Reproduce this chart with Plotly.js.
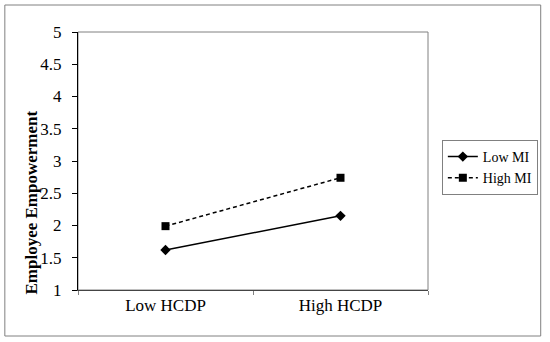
<!DOCTYPE html>
<html>
<head>
<meta charset="utf-8">
<script src="https://cdn.plot.ly/plotly-3.0.1.min.js"></script>
<style>html,body{margin:0;padding:0;background:#fff;}#chart{width:550px;height:342px;}</style>
</head>
<body>
<div id="chart"></div>
<script>
var categories = ["Low HCDP", "High HCDP"];
var seriesNames = ["Low MI", "High MI"];
var lowMI = [1.62, 2.15];
var highMI = [1.99, 2.74];
var yTicks = [1, 1.5, 2, 2.5, 3, 3.5, 4, 4.5, 5];
var yTitle = "Employee Empowerment";

var W = 550, H = 342;
var mL = 78, mR = 118, mT = 32, mB = 52;
var pw = W - mL - mR, ph = H - mT - mB;
function px(x) { return (x - mL) / pw; }
function py(y) { return (H - mB - y) / ph; }

var font = "Liberation Serif, Times New Roman, serif";

var traces = [
  {x: categories, y: lowMI, name: seriesNames[0], type: "scatter", mode: "lines+markers",
   line: {color: "#000", width: 1.5}, marker: {symbol: "diamond", size: 8, color: "#000"}},
  {x: categories, y: highMI, name: seriesNames[1], type: "scatter", mode: "lines+markers",
   line: {color: "#000", width: 1.5, dash: "4px,3px"}, marker: {symbol: "square", size: 8, color: "#000"}}
];

var layout = {
  width: W, height: H,
  margin: {l: mL, r: mR, t: mT, b: mB, pad: 0},
  paper_bgcolor: "#fff", plot_bgcolor: "#fff",
  font: {family: font, size: 16, color: "#000"},
  showlegend: true,
  legend: {x: px(446), y: py(140), xanchor: "left", yanchor: "top",
           bordercolor: "#808080", borderwidth: 1, bgcolor: "#fff", tracegroupgap: 0,
           font: {family: font, size: 14, color: "#000"}},
  xaxis: {type: "category", range: [-0.5, 1.5], showgrid: false, zeroline: false,
          showline: true, linecolor: "#444", linewidth: 1,
          ticks: "outside", tickson: "boundaries", ticklen: 4, tickcolor: "#808080",
          tickfont: {family: font, size: 17, color: "#000"}, fixedrange: true},
  yaxis: {range: [1, 5], tickvals: yTicks, ticktext: yTicks.map(String),
          showgrid: false, zeroline: false, showline: true, linecolor: "#000", linewidth: 1,
          ticks: "outside", ticklen: 5, tickcolor: "#000", ticklabelstandoff: 7,
          tickfont: {family: font, size: 17, color: "#000"}, fixedrange: true},
  shapes: [
    {type: "rect", xref: "paper", yref: "paper", x0: 0, x1: 1, y0: 0, y1: 1,
     line: {color: "#808080", width: 1}, layer: "below"},
    {type: "rect", xref: "paper", yref: "paper", x0: px(4), x1: px(546), y0: py(336), y1: py(5),
     line: {color: "#808080", width: 1}, layer: "below"}
  ],
  annotations: [
    {text: "<b>" + yTitle + "</b>", xref: "paper", yref: "paper", x: px(30), y: py(203),
     showarrow: false, textangle: -90, xanchor: "center", yanchor: "middle",
     font: {family: font, size: 17, color: "#000"}}
  ]
};

Plotly.newPlot("chart", traces, layout, {displayModeBar: false, staticPlot: true});
</script>
</body>
</html>
